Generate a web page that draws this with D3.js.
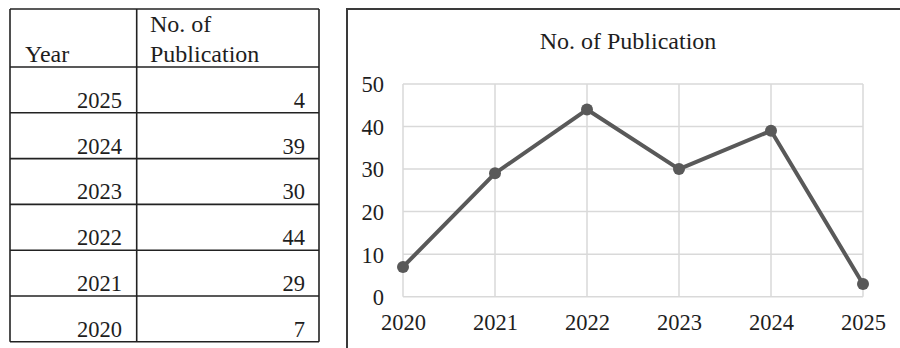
<!DOCTYPE html>
<html>
<head>
<meta charset="utf-8">
<script src="https://cdn.jsdelivr.net/npm/d3@7"></script>
<style>
  html, body { margin: 0; padding: 0; background: #fff; }
  svg { display: block; }
  text { font-family: "Liberation Serif", "Times New Roman", serif; fill: #1e1e1e; }
</style>
</head>
<body>
<svg id="fig" width="900" height="348"></svg>
<script>
// Table rows (newest first)
const tableYears = [2025, 2024, 2023, 2022, 2021, 2020];
const tableCounts = [4, 39, 30, 44, 29, 7];
const tableHeaders = ["Year", "No. of", "Publication"];

// Line chart series
const chartTitle = "No. of Publication";
const years = [2020, 2021, 2022, 2023, 2024, 2025];
const publications = [7, 29, 44, 30, 39, 3];
const yTicks = [0, 10, 20, 30, 40, 50];

const svg = d3.select("#fig");
const wordSize = 24;   // text set in words
const numSize = 22.5;  // numerals

// ---------- Table ----------
const tbl = { left: 10, mid: 136.7, right: 319, top: 9, headBottom: 67, rowH: 45.8 };
const tg = svg.append("g");
const rowY = d3.scaleLinear().domain([0, tableYears.length])
  .range([tbl.headBottom, tbl.headBottom + tbl.rowH * tableYears.length]);

// horizontal rules
const hLines = [tbl.top].concat(d3.range(tableYears.length + 1).map(i => rowY(i)));
tg.selectAll("line.h").data(hLines).join("line")
  .attr("x1", tbl.left).attr("x2", tbl.right)
  .attr("y1", d => d).attr("y2", d => d)
  .attr("stroke", "#222").attr("stroke-width", 1.6);
// vertical rules
tg.selectAll("line.v").data([tbl.left, tbl.mid, tbl.right]).join("line")
  .attr("x1", d => d).attr("x2", d => d)
  .attr("y1", tbl.top).attr("y2", rowY(tableYears.length))
  .attr("stroke", "#222").attr("stroke-width", 1.6);

// header
tg.append("text").attr("x", 25).attr("y", 62).attr("font-size", wordSize).text(tableHeaders[0]);
tg.append("text").attr("x", 150).attr("y", 32).attr("font-size", wordSize).text(tableHeaders[1]);
tg.append("text").attr("x", 150).attr("y", 62).attr("font-size", wordSize).text(tableHeaders[2]);

// body
tg.selectAll("text.yr").data(tableYears).join("text")
  .attr("x", 122).attr("y", (d, i) => rowY(i + 1) - 5)
  .attr("text-anchor", "end").attr("font-size", numSize).text(d => d);
tg.selectAll("text.ct").data(tableCounts).join("text")
  .attr("x", 305).attr("y", (d, i) => rowY(i + 1) - 5)
  .attr("text-anchor", "end").attr("font-size", numSize).text(d => d);

// ---------- Chart ----------
svg.append("rect")
  .attr("x", 347).attr("y", 9).attr("width", 600).attr("height", 400)
  .attr("fill", "none").attr("stroke", "#3a3a3a").attr("stroke-width", 2);

svg.append("text").attr("x", 628).attr("y", 49)
  .attr("text-anchor", "middle").attr("font-size", wordSize).text(chartTitle);

const x = d3.scaleLinear().domain([years[0], years[years.length - 1]]).range([403, 863]);
const y = d3.scaleLinear().domain([0, 50]).range([296.7, 84]);

const grid = svg.append("g");
grid.selectAll("line.gy").data(yTicks).join("line")
  .attr("x1", x.range()[0]).attr("x2", x.range()[1])
  .attr("y1", d => y(d)).attr("y2", d => y(d))
  .attr("stroke", "#d9d9d9").attr("stroke-width", 1.5);
grid.selectAll("line.gx").data(years).join("line")
  .attr("x1", d => x(d)).attr("x2", d => x(d))
  .attr("y1", y(0)).attr("y2", y(50))
  .attr("stroke", "#d9d9d9").attr("stroke-width", 1.5);

// axes (labels only)
const yAxis = svg.append("g").attr("transform", `translate(${x.range()[0] - 19},0)`)
  .call(d3.axisLeft(y).tickValues(yTicks).tickSize(0).tickPadding(0));
yAxis.select(".domain").remove();
yAxis.selectAll("text").attr("font-size", numSize).attr("font-family", "Liberation Serif, serif")
  .attr("fill", "#1e1e1e").attr("dy", "0.35em");

const xAxis = svg.append("g").attr("transform", `translate(0,${y(0)})`)
  .call(d3.axisBottom(x).tickValues(years).tickFormat(d3.format("d")).tickSize(0).tickPadding(0));
xAxis.select(".domain").remove();
xAxis.selectAll("text").attr("font-size", numSize).attr("font-family", "Liberation Serif, serif")
  .attr("fill", "#1e1e1e").attr("dy", null).attr("y", 33);

// series
const pts = years.map((yr, i) => [yr, publications[i]]);
svg.append("path").datum(pts)
  .attr("fill", "none").attr("stroke", "#595959").attr("stroke-width", 4)
  .attr("stroke-linejoin", "round")
  .attr("d", d3.line().x(d => x(d[0])).y(d => y(d[1])));
svg.selectAll("circle.pt").data(pts).join("circle")
  .attr("cx", d => x(d[0])).attr("cy", d => y(d[1])).attr("r", 6)
  .attr("fill", "#595959");
</script>
</body>
</html>
